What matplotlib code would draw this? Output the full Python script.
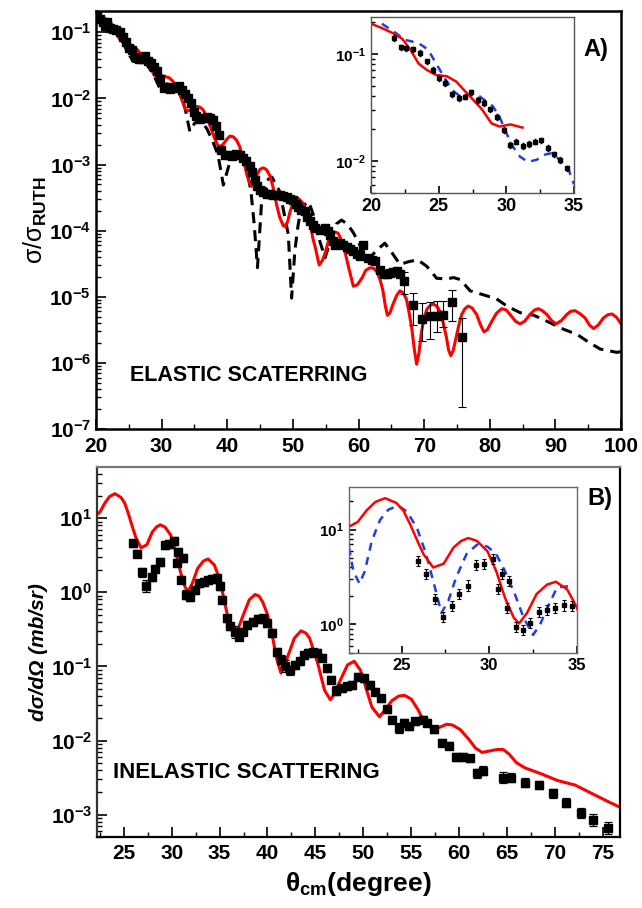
import matplotlib
matplotlib.use("Agg")
import matplotlib.pyplot as plt
import matplotlib.ticker as mticker
import numpy as np

plt.rcParams["font.family"] = ["Liberation Sans", "DejaVu Sans"]
plt.rcParams["mathtext.fontset"] = "custom"
plt.rcParams["mathtext.rm"] = "Liberation Sans"
plt.rcParams["mathtext.bf"] = "Liberation Sans:bold"
plt.rcParams["mathtext.it"] = "Liberation Sans:italic"

# ---- elastic data (panel A), log10 of sigma/sigma_Ruth ----
el_x = [20.2, 20.6, 21.0, 21.4, 21.7, 22.2, 22.6, 23.1, 23.6, 24.1, 24.55, 25.0, 25.5,
        25.95, 26.5, 26.95, 27.4, 27.9, 28.35, 28.8, 29.3, 29.8, 30.3, 30.7, 31.2, 31.7,
        32.1, 32.6, 33.05, 33.5, 34.0, 34.45, 34.9, 35.3, 35.8, 36.3, 36.9, 37.4, 37.9,
        38.3, 38.7, 39.1, 39.6, 40.2, 40.7, 41.3, 41.9, 42.4, 42.9, 43.4, 43.8, 44.2,
        44.6, 45.0, 45.5, 46.0, 46.5, 47.0, 47.5, 48.0, 48.5, 49.06, 49.6, 50.06, 50.5,
        50.8, 51.3, 51.8, 52.2, 52.6, 53.0, 53.4, 54.1, 54.9, 55.3, 55.7, 56.1, 56.4,
        57.2, 57.7, 58.2, 58.7, 59.2, 59.7, 60.2, 60.7, 61.5, 62.0, 62.5, 63.2, 63.8,
        64.3, 64.8, 65.3, 65.8, 66.3]
el_logy = [-0.75, -0.80, -0.84, -0.90, -0.85, -0.94, -0.95, -0.96, -0.99, -1.07, -1.15,
           -1.23, -1.27, -1.38, -1.41, -1.40, -1.36, -1.43, -1.46, -1.52, -1.59, -1.71,
           -1.85, -1.82, -1.86, -1.84, -1.82, -1.81, -1.88, -1.94, -1.99, -2.07, -2.20,
           -2.27, -2.31, -2.29, -2.28, -2.30, -2.33, -2.42, -2.56, -2.78, -2.85, -2.86,
           -2.87, -2.84, -2.86, -2.90, -2.95, -3.02, -3.12, -3.24, -3.33, -3.39, -3.42,
           -3.44, -3.45, -3.46, -3.46, -3.46, -3.48, -3.49, -3.52, -3.54, -3.60, -3.64,
           -3.68, -3.71, -3.80, -3.86, -3.92, -3.96, -3.99, -3.96, -4.00, -4.06, -4.15,
           -4.21, -4.19, -4.22, -4.24, -4.28, -4.31, -4.35, -4.39, -4.21, -4.41, -4.44,
           -4.46, -4.60, -4.66, -4.65, -4.64, -4.62, -4.61, -4.66]
# sparse points with error bars
el_x_err = [66.9, 68.35, 69.6, 70.9, 71.9, 72.9, 74.3, 75.7]
el_logy_err = [-4.76, -5.12, -5.34, -5.29, -5.29, -5.27, -5.08, -5.61]
el_logy_lo = [-4.96, -5.42, -5.67, -5.64, -5.54, -5.46, -5.37, -6.67]
el_logy_hi = [-4.62, -4.94, -5.09, -5.08, -5.07, -5.06, -4.90, -5.32]

# red fit (solid), panel A
fitA_x = [20.0, 20.8, 21.65, 22.3, 22.9, 23.5, 24.1, 24.85, 25.6, 26.3, 26.95, 27.55, 28.2,
          28.9, 29.5, 30.3, 31.2, 31.8, 32.3, 33.0, 33.6, 34.0, 34.3, 34.8, 35.3, 35.8,
          36.3, 36.8, 37.4, 38.1, 38.5, 38.9, 39.4, 39.9, 40.4, 40.9, 41.4, 41.9, 42.5,
          43.0, 43.4, 43.7, 44.1, 44.6, 45.0, 45.5, 46.0, 46.5, 47.0, 47.5, 48.0, 48.5,
          48.8, 49.2, 49.6, 50.1, 50.8, 51.5, 52.1, 52.6, 53.0, 53.4, 54.0, 54.5, 54.9,
          55.4, 55.9, 56.4, 56.9, 57.4, 57.9, 58.6, 59.2, 59.8, 60.5, 61.1, 61.75, 62.3,
          62.8, 63.3, 63.7, 64.1, 64.4, 64.8, 65.3, 65.8, 66.3, 66.8, 67.3, 67.7, 68.1,
          68.5, 68.85, 69.2, 69.6, 70.0, 70.4, 70.9, 71.4, 71.9, 72.4, 72.9, 73.4, 73.7,
          74.05, 74.4, 74.85, 75.3, 75.7, 76.2, 76.7, 77.3, 78.0, 78.6, 79.1, 79.6, 80.3,
          81.0, 81.8, 82.5, 83.1, 83.9, 84.6, 85.3, 86.1, 86.8, 87.4, 88.0, 88.7, 89.4,
          90.1, 90.9, 91.7, 92.3, 93.0, 93.8, 94.5, 95.2, 95.8, 96.5, 97.3, 98.0, 98.6,
          99.3, 100.0]
fitA_logy = [-0.72, -0.76, -0.81, -0.86, -0.96, -1.09, -1.15, -1.20, -1.21, -1.26, -1.35,
             -1.43, -1.52, -1.65, -1.68, -1.66, -1.69, -1.75, -1.83, -2.00, -2.16, -2.19,
             -2.18, -2.14, -2.12, -2.13, -2.17, -2.26, -2.42, -2.61, -2.70, -2.73, -2.69,
             -2.62, -2.57, -2.58, -2.63, -2.73, -2.95, -3.16, -3.28, -3.33, -3.27, -3.14,
             -3.07, -3.05, -3.08, -3.17, -3.35, -3.60, -3.80, -3.92, -3.94, -3.86, -3.70,
             -3.56, -3.51, -3.58, -3.72, -3.86, -4.10, -4.25, -4.52, -4.45, -4.34, -4.16,
             -4.06, -4.02, -4.04, -4.15, -4.31, -4.60, -4.84, -4.82, -4.72, -4.60, -4.56,
             -4.57, -4.62, -4.75, -4.90, -5.15, -5.28, -5.24, -5.10, -4.98, -4.91, -4.94,
             -5.04, -5.24, -5.47, -5.80, -6.02, -5.85, -5.52, -5.32, -5.19, -5.13, -5.11,
             -5.14, -5.22, -5.40, -5.62, -5.80, -5.89, -5.82, -5.62, -5.42, -5.27, -5.18,
             -5.14, -5.17, -5.27, -5.43, -5.53, -5.50, -5.37, -5.25, -5.18, -5.20, -5.27,
             -5.37, -5.41, -5.37, -5.27, -5.20, -5.18, -5.21, -5.27, -5.36, -5.41, -5.36,
             -5.27, -5.22, -5.21, -5.26, -5.32, -5.43, -5.48, -5.43, -5.32, -5.27, -5.26,
             -5.31, -5.41]
# black dashed fit, panel A
dashA_x = [20.0, 21.5, 23.0, 24.1, 24.9, 25.7, 26.7, 27.7, 28.5, 29.2, 30.0, 30.8, 31.6,
           32.5, 33.1, 33.6, 34.3, 35.0, 35.8, 36.9, 37.8, 38.6, 39.4, 40.4, 41.7, 42.96,
           43.6, 44.1, 44.6, 45.2, 46.0, 46.8, 48.0, 49.3, 49.8, 50.3, 50.8, 51.3, 52.4,
           53.4, 54.1, 54.9, 55.9, 56.6, 57.4, 58.3, 59.2, 60.7, 61.5, 62.7, 64.0, 65.2,
           66.3, 67.6, 69.0, 70.4, 71.9, 73.3, 74.5, 75.5, 77.0, 79.0, 81.0, 82.6, 84.6,
           86.7, 88.7, 91.2, 93.3, 94.8, 96.8, 99.3, 100.0]
dashA_logy = [-0.73, -0.85, -0.98, -1.15, -1.32, -1.44, -1.46, -1.48, -1.60, -1.73, -1.91,
              -1.78, -1.80, -1.86, -2.00, -2.16, -2.50, -2.38, -2.31, -2.46, -2.65, -2.86,
              -3.31, -2.96, -2.81, -3.06, -3.40, -3.90, -4.56, -3.61, -3.24, -3.19, -3.41,
              -4.06, -5.02, -4.30, -3.91, -3.64, -3.56, -3.84, -4.16, -4.41, -4.09, -3.90,
              -3.84, -3.90, -4.03, -4.31, -4.44, -4.30, -4.19, -4.35, -4.51, -4.47, -4.44,
              -4.54, -4.72, -4.73, -4.71, -4.74, -4.91, -4.97, -5.03, -5.14, -5.24, -5.28,
              -5.37, -5.49, -5.57, -5.67, -5.79, -5.84, -5.83]
# blue dashed fit in inset A
blueA_x = [20.8, 21.65, 22.5, 23.5, 24.2, 24.85, 25.45, 26.1, 26.6, 27.3, 28.05, 28.55,
           29.0, 29.5, 30.0, 30.5, 31.0, 31.6, 32.25, 32.9, 33.35, 33.95, 34.6, 35.0]
blueA_logy = [-0.72, -0.79, -0.87, -0.90, -0.96, -1.10, -1.23, -1.35, -1.40, -1.38, -1.40,
              -1.45, -1.49, -1.59, -1.74, -1.87, -1.96, -2.01, -1.99, -1.94, -1.93, -1.99,
              -2.08, -2.22]

# ---- inelastic data (panel B), log10 of dsigma/dOmega ----
ine_x = [25.97, 26.4, 26.9, 27.36, 27.9, 28.3, 28.8, 29.27, 29.75, 30.2, 30.5, 30.7, 31.0,
         31.15, 31.5, 31.95, 32.4, 32.9, 33.35, 33.8, 34.25, 34.7, 35.0, 35.3, 35.8, 36.1,
         36.56, 37.0, 37.4, 37.9, 38.45, 38.96, 39.5, 40.0, 40.47, 40.97, 41.4, 41.85,
         42.3, 42.9, 43.4, 43.8, 44.2, 44.7, 45.2, 45.7, 46.2, 46.6, 47.1, 47.8, 48.3,
         48.8, 49.5, 50.05, 50.75, 51.25, 51.8, 52.5, 53.0, 53.7, 54.2, 54.75, 55.45,
         56.2, 56.7, 57.4, 58.2, 58.9, 59.7, 60.4, 61.1, 61.9, 62.5, 64.6, 65.4, 66.9,
         68.3, 69.8, 71.2, 72.7, 74.0, 75.5]
ine_logy = [0.66, 0.52, 0.27, 0.08, 0.20, 0.32, 0.41, 0.64, 0.65, 0.69, 0.40, 0.55, 0.17,
            0.46, -0.03, -0.06, 0.03, 0.12, 0.14, 0.16, 0.18, 0.19, 0.08, -0.10, -0.35,
            -0.46, -0.53, -0.60, -0.53, -0.44, -0.40, -0.36, -0.35, -0.42, -0.55, -0.80,
            -0.91, -1.00, -1.05, -0.98, -0.93, -0.85, -0.82, -0.81, -0.82, -0.88, -1.02,
            -1.18, -1.33, -1.29, -1.27, -1.25, -1.14, -1.16, -1.25, -1.34, -1.43, -1.58,
            -1.72, -1.83, -1.76, -1.81, -1.74, -1.72, -1.76, -1.85, -2.03, -2.07, -2.22,
            -2.22, -2.24, -2.44, -2.41, -2.50, -2.50, -2.57, -2.60, -2.71, -2.84, -2.98,
            -3.07, -3.18]
ine_dex = [0.05, 0.05, 0.06, 0.08, 0.05, 0.05, 0.05, 0.05, 0.05, 0.05, 0.05, 0.05, 0.05,
           0.05, 0.06, 0.06, 0.05, 0.05, 0.05, 0.05, 0.05, 0.05, 0.05, 0.05, 0.05, 0.05,
           0.08, 0.05, 0.05, 0.05, 0.05, 0.05, 0.05, 0.05, 0.05, 0.05, 0.06, 0.08, 0.06,
           0.05, 0.05, 0.05, 0.05, 0.05, 0.05, 0.05, 0.05, 0.05, 0.06, 0.05, 0.05, 0.05,
           0.05, 0.05, 0.05, 0.05, 0.05, 0.05, 0.05, 0.07, 0.05, 0.05, 0.05, 0.05, 0.05,
           0.05, 0.05, 0.05, 0.05, 0.05, 0.05, 0.06, 0.06, 0.07, 0.06, 0.06, 0.06, 0.06,
           0.06, 0.07, 0.08, 0.08]

fitB_x = [22.0, 22.5, 23.0, 23.5, 24.06, 24.7, 25.1, 25.5, 25.9, 26.25, 26.8, 27.4, 27.96,
          28.4, 28.8, 29.3, 29.9, 30.4, 30.9, 31.4, 31.7, 32.15, 32.7, 33.3, 33.8, 34.44,
          35.0, 35.5, 36.0, 36.6, 37.0, 37.4, 38.1, 38.7, 39.1, 39.5, 40.0, 40.4, 40.9,
          41.4, 41.8, 42.1, 42.8, 43.5, 44.0, 44.4, 45.25, 45.95, 46.56, 47.0, 47.3, 48.35,
          49.05, 49.7, 50.3, 50.9, 51.7, 52.3, 53.0, 53.7, 54.3, 55.0, 55.7, 56.4, 57.3,
          58.0, 58.7, 59.3, 60.1, 61.0, 61.7, 62.4, 63.2, 64.0, 64.6, 65.2, 66.0, 66.9,
          68.6, 70.3, 72.1, 73.8, 75.5, 76.8]
fitB_logy = [1.03, 1.08, 1.20, 1.29, 1.33, 1.28, 1.20, 1.05, 0.88, 0.74, 0.60, 0.64, 0.81,
             0.88, 0.91, 0.88, 0.77, 0.56, 0.28, 0.07, 0.01, 0.12, 0.32, 0.42, 0.45, 0.37,
             0.18, -0.12, -0.42, -0.55, -0.47, -0.33, -0.10, -0.03, -0.05, -0.13, -0.30,
             -0.51, -0.87, -1.09, -0.99, -0.87, -0.62, -0.52, -0.55, -0.62, -0.96, -1.32,
             -1.45, -1.37, -1.27, -0.98, -0.93, -1.05, -1.30, -1.55, -1.68, -1.58, -1.46,
             -1.40, -1.39, -1.44, -1.58, -1.76, -1.85, -1.82, -1.78, -1.79, -1.85, -1.98,
             -2.10, -2.16, -2.14, -2.12, -2.12, -2.18, -2.30, -2.37, -2.45, -2.54, -2.60,
             -2.71, -2.82, -2.90]
blueB_x = [22.0, 22.25, 22.6, 22.9, 23.3, 23.77, 24.25, 24.8, 25.3, 25.87, 26.4, 26.9,
           27.27, 27.67, 28.1, 28.7, 29.3, 29.9, 30.4, 30.9, 31.46, 31.96, 32.5, 32.9,
           33.4, 33.87, 34.4, 34.8]
blueB_logy = [0.81, 0.56, 0.43, 0.56, 0.88, 1.10, 1.21, 1.25, 1.19, 1.02, 0.74, 0.39, 0.12,
              0.25, 0.49, 0.74, 0.84, 0.82, 0.74, 0.56, 0.32, 0.07, -0.11, 0.00, 0.21,
              0.39, 0.40, 0.40]
insB_x = [25.96, 26.4, 26.9, 27.36, 27.87, 28.3, 28.77, 29.25, 29.7, 30.2, 30.5, 30.7,
          31.0, 31.14, 31.5, 31.9, 32.35, 32.85, 33.27, 33.77, 34.25, 34.7]
insB_logy = [0.67, 0.53, 0.27, 0.08, 0.19, 0.32, 0.41, 0.63, 0.64, 0.69, 0.37, 0.53, 0.17,
             0.46, -0.03, -0.06, 0.02, 0.13, 0.15, 0.17, 0.20, 0.19]


def p10(v):
    return np.power(10.0, np.asarray(v, dtype=float))


def log_fmt(val, pos):
    if val <= 0:
        return ""
    e = int(np.round(np.log10(val)))
    return r"$\mathbf{10^{%d}}$" % e


def style_axis(ax, xsize, ysize, major_len=7, minor_len=3.5, xpad=3.5):
    ax.tick_params(which="both", direction="in", top=False, right=False)
    ax.tick_params(which="major", length=major_len, width=1.2)
    ax.tick_params(which="minor", length=minor_len, width=1.0)
    ax.tick_params(axis="x", labelsize=xsize, pad=xpad)
    ax.tick_params(axis="y", labelsize=ysize)
    ax.yaxis.set_major_locator(mticker.LogLocator(base=10, numticks=20))
    ax.yaxis.set_minor_locator(mticker.LogLocator(base=10, subs=np.arange(2, 10), numticks=20))
    ax.yaxis.set_major_formatter(mticker.FuncFormatter(log_fmt))
    ax.yaxis.set_minor_formatter(mticker.NullFormatter())
    for lab in ax.get_xticklabels():
        lab.set_fontweight("bold")


fig = plt.figure(figsize=(6.42, 9.08), dpi=100)

# ---------------- panel A ----------------
ax1 = fig.add_axes([0.1495, 0.5275, 0.818, 0.4604])
ax1.set_yscale("log")
ax1.plot(dashA_x, p10(dashA_logy), color="black", lw=2.2, dashes=(3.6, 2.3))
ax1.plot(fitA_x, p10(fitA_logy), color="red", lw=2.2)
ax1.plot(el_x, p10(el_logy), "s", color="black", ms=6)
ye = p10(el_logy_err)
ax1.errorbar(el_x_err, ye, yerr=[ye - p10(el_logy_lo), p10(el_logy_hi) - ye],
             fmt="s", color="black", ms=6, elinewidth=0.8, capsize=3, capthick=0.8)
ax1.set_xlim(20, 100)
ax1.set_ylim(1e-7, 0.21)
ax1.xaxis.set_major_locator(mticker.MultipleLocator(10))
ax1.xaxis.set_minor_locator(mticker.MultipleLocator(5))
style_axis(ax1, 15, 15, xpad=6)
for lab in ax1.get_xticklabels():
    lab.set_fontweight("bold")
for s in ax1.spines.values():
    s.set_linewidth(1.8)
ax1.set_ylabel("σ/σ$_{\\mathbf{RUTH}}$", fontsize=18, labelpad=0)
ax1.text(0.065, 0.115, "ELASTIC SCATERRING", transform=ax1.transAxes,
         fontsize=15.5, fontweight="bold")
ax1.text(0.975, 0.907, "A)", transform=ax1.transAxes, fontsize=17,
         fontweight="bold", ha="right", va="center")

# inset A
axa = fig.add_axes([0.578, 0.7874, 0.316, 0.1938])
axa.set_yscale("log")
axa.plot(blueA_x, p10(blueA_logy), color="#1f3fe0", lw=1.8, dashes=(3.2, 2.6))
fa_x = np.array(fitA_x)
fa_y = p10(fitA_logy)
axa.plot(fa_x[fa_x <= 31.2], fa_y[fa_x <= 31.2], color="red", lw=1.8)
axa.errorbar(el_x[4:32], p10(el_logy[4:32]), yerr=p10(el_logy[4:32]) * 0.06,
             fmt="s", color="black", ms=2.8, elinewidth=0.7, capsize=1)
axa.set_xlim(20, 35)
axa.set_ylim(0.005, 0.22)
axa.xaxis.set_major_locator(mticker.MultipleLocator(5))
axa.xaxis.set_minor_locator(mticker.MultipleLocator(2.5))
style_axis(axa, 13, 11, major_len=5, minor_len=3)
for lab in axa.get_xticklabels():
    lab.set_fontweight("bold")
for s in axa.spines.values():
    s.set_linewidth(1.0)
    s.set_color("#555555")

# ---------------- panel B ----------------
ax2 = fig.add_axes([0.1511, 0.0782, 0.8146, 0.4075])
ax2.set_yscale("log")
ax2.plot(fitB_x, p10(fitB_logy), color="red", lw=2.2)
yb = p10(ine_logy)
db = p10(ine_dex)
ax2.errorbar(ine_x, yb, yerr=[yb - yb / db, yb * db - yb], fmt="s", color="black",
             ms=6, elinewidth=0.9, capsize=3, capthick=0.9)
ax2.set_xlim(22.2, 76.8)
ax2.set_ylim(5e-4, 49)
ax2.xaxis.set_major_locator(mticker.MultipleLocator(5))
ax2.xaxis.set_minor_locator(mticker.MultipleLocator(2.5))
style_axis(ax2, 15, 15, xpad=5)
for lab in ax2.get_xticklabels():
    lab.set_fontweight("bold")
for s in ax2.spines.values():
    s.set_linewidth(1.6)
ax2.spines["top"].set_color("#777777")
ax2.spines["left"].set_color("#333333")
ax2.set_ylabel("dσ/dΩ (mb/sr)", fontsize=15, fontweight="bold", style="italic",
               labelpad=2)
ax2.set_xlabel("θ$_{\\mathbf{cm}}$(degree)", fontsize=19, fontweight="bold", labelpad=5)
ax2.text(0.03, 0.16, "INELASTIC SCATTERING", transform=ax2.transAxes,
         fontsize=16, fontweight="bold")
ax2.text(0.985, 0.916, "B)", transform=ax2.transAxes, fontsize=17,
         fontweight="bold", ha="right", va="center")

# inset B
axb = fig.add_axes([0.5436, 0.2808, 0.355, 0.1828])
axb.set_yscale("log")
axb.plot(blueB_x, p10(blueB_logy), color="#1f3fe0", lw=1.8, dashes=(3.2, 2.6))
axb.plot(fitB_x, p10(fitB_logy), color="red", lw=1.8)
yi = p10(insB_logy)
axb.errorbar(insB_x, yi, yerr=[yi - yi / 1.13, yi * 1.13 - yi], fmt="s", color="black",
             ms=3, elinewidth=0.8, capsize=1.5, capthick=0.8)
axb.set_xlim(22, 35)
axb.set_ylim(0.5, 28)
axb.xaxis.set_major_locator(mticker.MultipleLocator(5))
axb.xaxis.set_minor_locator(mticker.MultipleLocator(2.5))
style_axis(axb, 12, 11, major_len=5, minor_len=3)
for lab in axb.get_xticklabels():
    lab.set_fontweight("bold")
for s in axb.spines.values():
    s.set_linewidth(1.0)
    s.set_color("#666666")

fig.savefig("out.png", dpi=100)
